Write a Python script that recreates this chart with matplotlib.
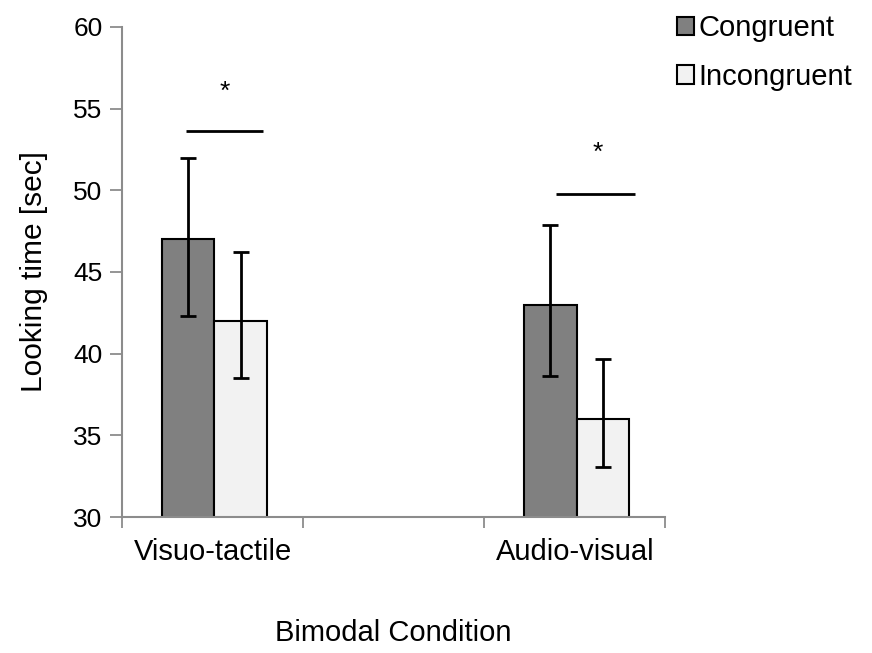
import matplotlib
matplotlib.use("Agg")
import matplotlib.pyplot as plt
import numpy as np

plt.rcParams["font.family"] = ["Liberation Sans", "DejaVu Sans"]

# ── data ──────────────────────────────────────────────────────────────────────
conditions = ["Visuo-tactile", "", "Audio-visual"]   # middle slot is empty in the original
congruent = [47.0, np.nan, 43.0]
incongruent = [42.0, np.nan, 36.0]
cong_lo = [4.7, 0, 4.35]
cong_hi = [5.0, 0, 4.9]
incong_lo = [3.5, 0, 2.9]
incong_hi = [4.25, 0, 3.7]

# significance bars: (x_start, x_end, y)
sig_lines = [(-0.148, 0.279, 53.6), (1.898, 2.334, 49.8)]
sig_stars = [(0.069, 56.0), (2.128, 52.3)]

WIDTH = 0.29
C_CONG = "#808080"
C_INC = "#f2f2f2"
AXIS_GREY = "#8c8c8c"

fig = plt.figure(figsize=(8.72, 6.53), dpi=100)
ax = fig.add_axes([0.140, 0.208, 0.623, 0.751])

x = np.arange(len(conditions))
ax.bar(x - WIDTH / 2 + 0.01, congruent, WIDTH, color=C_CONG,
       edgecolor="black", linewidth=1.5, label="Congruent", zorder=2)
ax.bar(x + WIDTH / 2 + 0.01, incongruent, WIDTH, color=C_INC,
       edgecolor="black", linewidth=1.5, label="Incongruent", zorder=2)

for xs, vals, lo, hi in ((x - WIDTH / 2 + 0.01, congruent, cong_lo, cong_hi),
                         (x + WIDTH / 2 + 0.01, incongruent, incong_lo, incong_hi)):
    ax.errorbar(xs, vals, yerr=[lo, hi], fmt="none", ecolor="black",
                elinewidth=2.0, capsize=6, capthick=2.0, zorder=3)

for x0, x1, y in sig_lines:
    ax.plot([x0, x1], [y, y], color="black", linewidth=2.0, solid_capstyle="butt")
for sx, sy in sig_stars:
    ax.text(sx, sy, "*", ha="center", va="center", fontsize=19)

ax.set_ylim(30, 60)
ax.set_xlim(-0.5, 2.5)
ax.set_yticks(np.arange(30, 61, 5))
ax.tick_params(axis="y", labelsize=19, length=9, width=1.3, color=AXIS_GREY, pad=5)

ax.set_xticks([-0.5, 0.5, 1.5, 2.5])
ax.set_xticklabels([])
ax.tick_params(axis="x", which="major", length=8, width=1.3, color=AXIS_GREY)
ax.set_xticks([0, 2], minor=True)
ax.set_xticklabels([conditions[0], conditions[2]], minor=True)
ax.tick_params(axis="x", which="minor", length=0, labelsize=21, pad=15)

for side in ("top", "right"):
    ax.spines[side].set_visible(False)
for side in ("left", "bottom"):
    ax.spines[side].set_color(AXIS_GREY)
    ax.spines[side].set_linewidth(1.5)

ax.set_ylabel("Looking time [sec]", fontsize=21.5, labelpad=18)
ax.set_xlabel("Bimodal Condition", fontsize=21, labelpad=38)

ax.legend(loc="upper left", bbox_to_anchor=(0.776, 0.978), bbox_transform=fig.transFigure,
          frameon=False, fontsize=21, handlelength=0.6, handleheight=0.6,
          handletextpad=0.15, labelspacing=0.7, borderaxespad=0, borderpad=0)

fig.savefig("out.png", dpi=100)
